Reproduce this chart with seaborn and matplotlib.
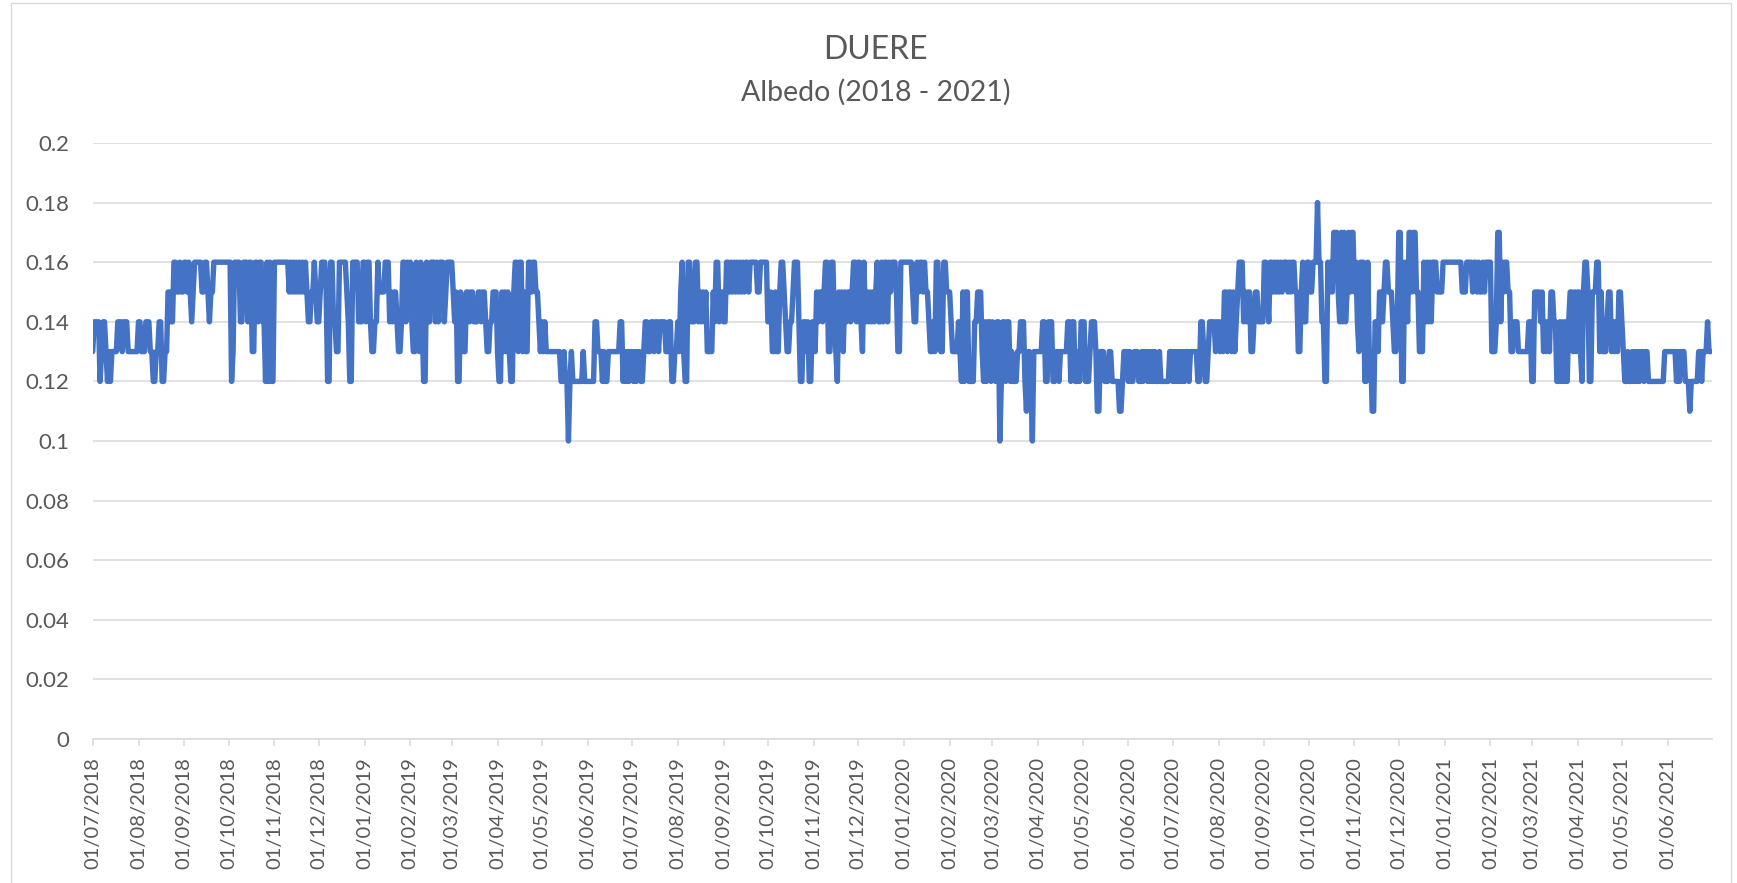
import matplotlib
matplotlib.use("Agg")
import matplotlib.pyplot as plt
from matplotlib.patches import Rectangle
from matplotlib.ticker import FuncFormatter
import matplotlib.dates as mdates
import numpy as np
import pandas as pd
import seaborn as sns

# Daily surface albedo at DUERE, stored in hundredths (13 -> 0.13), one list per half-year
albedo_2018_jul_dec = [
    13, 14, 14, 14, 14, 12, 13, 14, 14, 13,
    12, 13, 12, 13, 13, 13, 13, 14, 14, 14,
    13, 14, 14, 14, 13, 13, 13, 13, 13, 13,
    13, 14, 14, 13, 13, 13, 14, 14, 14, 13,
    13, 12, 12, 13, 13, 14, 14, 12, 12, 13,
    13, 15, 15, 14, 14, 16, 16, 15, 15, 16,
    15, 15, 16, 16, 15, 16, 15, 14, 15, 16,
    16, 16, 16, 16, 15, 15, 16, 16, 15, 14,
    15, 15, 16, 16, 16, 16, 16, 16, 16, 16,
    16, 16, 16, 16, 12, 13, 16, 16, 16,
    16, 14, 14, 16, 16, 16, 14, 16, 16, 13,
    13, 16, 16, 14, 16, 16, 14, 14, 12, 16,
    12, 16, 12, 12, 16, 16, 16, 16, 16, 16,
    16, 16, 16, 16, 15, 16, 15, 16, 15, 16,
    15, 16, 15, 16, 15, 16, 15, 14, 14, 15,
    15, 16, 15, 14, 14, 15, 16, 16, 16, 15,
    12, 12, 16, 16, 14, 14, 13, 13, 16, 16,
    16, 16, 16, 15, 14, 12, 12, 16, 16, 16,
    16, 14, 14, 14, 16,
]
albedo_2019_jan_jun = [
    16, 14, 16, 16, 14,
    13, 13, 14, 14, 16, 15, 15, 15, 15,
    16, 16, 16, 14, 15, 14, 15, 15, 14, 13,
    13, 14, 16, 16, 14, 16, 15, 16, 14, 13,
    13, 16, 14, 13, 16, 14, 12, 12, 16, 14,
    14, 16, 16, 16, 14, 16, 14, 16, 16, 16,
    14, 15, 16, 16, 16, 16, 15, 14, 15, 12,
    12, 15, 14, 13, 13, 15, 15, 14, 15, 15,
    14, 14, 14, 15, 15, 14, 15, 15, 14, 13,
    13, 14, 14, 15, 15, 15, 13, 12, 12, 15,
    13, 15, 13, 15, 13, 12, 12, 15, 16, 16,
    13, 16, 16, 13, 15, 13, 13, 16, 16, 15,
    16, 16,
    15, 15, 14, 13, 14, 13, 14, 13, 13, 13,
    13, 13, 13, 13, 13, 13, 13, 12, 12, 13,
    12, 12, 10, 12, 13, 12, 12, 12, 12, 12,
    12, 12, 13, 12, 12, 12, 12, 12, 12, 12,
    14, 14, 13, 13, 13, 12, 13, 12, 12, 13,
    13, 13, 13, 13, 13, 13, 13, 14, 14, 12,
    13, 12, 13, 12, 13,
]
albedo_2019_jul_dec = [
    13, 12, 13, 12, 13,
    13, 12, 12, 13, 14, 14, 13, 13, 14, 14,
    13, 14, 14, 13, 14, 14, 14, 14, 13, 13,
    14, 14, 12, 12, 13, 13, 14, 13,
    15,
    16, 13, 12, 12, 16, 16, 14, 14, 14, 16,
    16, 14, 15, 14, 15, 14, 15, 13, 13, 13,
    13, 15, 14, 16, 16, 14, 15, 15, 14, 14,
    16, 16, 15, 16, 15, 16, 15, 16, 15, 16,
    15, 16, 15, 16, 16, 15, 16, 16, 16, 16,
    16, 15, 15, 16, 16, 16, 16, 16, 14, 14,
    15, 13, 13, 15, 13, 13, 15, 16, 16, 15,
    14, 13, 13, 14, 14, 15, 16, 16, 16, 14,
    12, 12, 14, 14, 13, 14, 12, 12, 14, 14,
    13, 15, 14, 15, 15, 14, 15, 16, 16, 13,
    13, 16, 16, 14, 13, 12, 15, 14, 15, 13,
    15, 14, 15, 15, 14, 15, 16, 16, 14, 16,
    16, 14, 13, 16, 14, 15, 14, 15, 14, 15,
    14, 15, 16, 14, 14, 16, 14, 16, 16, 14,
    16, 15, 16, 16, 16, 15, 13, 13, 16, 16,
]
albedo_2020_jan_jun = [
    16, 16, 16, 16, 16, 16, 15, 14, 14, 16,
    15, 16, 16, 15, 16, 15, 15, 14, 13, 13,
    14, 13, 16, 16, 14, 13, 13, 16, 16, 15,
    15, 15, 14, 13, 13, 13, 13, 14, 13, 12,
    15, 12, 15, 15, 12, 12, 12, 12, 14, 14,
    15,
    15, 15, 13, 12, 14, 12, 14, 14, 12, 14,
    13, 12, 14, 14, 10, 12, 14, 14, 12, 14,
    14, 12, 13, 12, 12, 12, 13, 13, 14, 14,
    14, 12, 11, 13, 13, 12, 10, 13, 13, 13,
    13, 13, 13, 14, 14, 12, 12, 14, 14, 14,
    12, 12, 13, 13, 12, 13, 13, 13, 13, 13,
    14, 14, 12, 14, 14, 12, 12, 13, 12, 14,
    14, 14, 12, 12, 12, 13, 14, 14, 14, 13,
    11, 11, 13, 13, 13, 12, 12, 12, 13, 13,
    12, 12, 12, 12, 12, 11, 11, 12, 13, 13,
    13, 12, 13, 12, 12, 13, 13, 13, 12,
    12, 13, 12, 13, 13, 12, 13, 12, 13, 12,
    13, 12, 12, 13, 12, 12, 12, 12, 12, 12,
    13, 13,
]
albedo_2020_jul_dec = [
    12, 13, 12, 13, 12, 13, 12, 13,
    12, 13, 13, 12, 13, 13, 13, 13, 13, 12,
    12, 14, 14, 13, 12, 12, 13, 14, 14, 14,
    14, 13, 14, 14, 13, 14, 13, 15, 15, 13,
    15, 15, 13, 15, 13, 14, 15, 16, 16, 16,
    14, 15, 14, 15, 15, 13, 13, 14, 15, 15,
    14, 14, 14, 14, 16, 16, 15, 14, 16, 16,
    15,
    16, 15, 16, 15, 16, 15, 16, 16, 16, 15,
    16, 15, 16, 16, 15, 15, 13, 13, 15, 16,
    14, 14, 16, 16, 15, 15, 16, 16, 16, 18,
    16, 16, 14, 14, 12, 12, 16, 15, 16, 15,
    17, 17, 17, 15, 14, 17, 14, 17, 14, 15,
    17, 15, 17, 17, 15, 16, 14, 13, 16, 16,
    16, 12, 12, 16, 13, 13, 11, 11, 14, 14,
    13, 15, 15, 14, 15, 16, 16, 15, 15, 15,
    14, 13, 13, 14, 17, 17, 12, 12, 16, 15,
    14, 17, 17, 15, 17, 17, 15, 15, 13, 13,
    13, 16, 14, 16, 14, 16, 14, 16, 16, 16,
    15, 15, 15, 15, 16,
]
albedo_2021_jan_jun = [
    16, 16, 16, 16, 16,
    16, 16, 16, 16, 16, 16, 16, 15, 15, 15,
    16, 16, 16, 16, 15, 16, 16, 15, 16, 15,
    15, 16, 15, 16, 16, 16, 16, 13, 13, 13,
    14, 17, 17, 14, 16, 15, 16, 16, 15, 15,
    13, 13, 14, 14, 14, 13, 13, 13, 13, 13,
    13, 13, 14, 14, 12, 12, 15, 15, 15, 15,
    14, 15, 13, 14, 13, 14, 13, 15, 15, 14,
    14, 12, 12, 14, 12, 14, 12, 14, 12, 14,
    15, 15,
    13, 15, 13, 15, 15, 13, 12, 15, 16,
    16, 15, 12, 12, 15, 15, 15, 16, 16, 13,
    15, 13, 13, 13, 14, 15, 15, 13, 14, 13,
    14, 13, 15, 15, 14, 13, 12, 12, 13, 12,
    12, 13, 12, 13, 12, 13, 12, 13, 13, 12,
    13, 13, 12, 12, 12, 12, 12, 12, 12, 12,
    12, 12, 12, 13, 13, 13, 13, 13, 13, 13,
    13, 12, 13, 12, 13, 13, 13, 12, 12, 12,
    11, 12, 12, 12, 12, 12, 13, 13, 12, 13,
    13, 13, 14, 13, 13,
]

title_text = "DUERE"
subtitle_text = "Albedo (2018 - 2021)"
first_day = "2018-07-01"
axis_end = "2021-07-01"
last_tick = "2021-06-01"
y_ticks = [0, 0.02, 0.04, 0.06, 0.08, 0.1, 0.12, 0.14, 0.16, 0.18, 0.2]

halves = [albedo_2018_jul_dec, albedo_2019_jan_jun, albedo_2019_jul_dec,
          albedo_2020_jan_jun, albedo_2020_jul_dec, albedo_2021_jan_jun]
values = np.concatenate([np.asarray(h, dtype=float) for h in halves]) / 100.0
dates = pd.date_range(first_day, periods=len(values), freq="D")
df = pd.DataFrame({"date": dates, "albedo": values})

sns.set_theme(style="white")
plt.rcParams["font.family"] = ["Lato", "DejaVu Sans"]

W, H = 1737, 883
fig = plt.figure(figsize=(W / 100, H / 100), dpi=100)
fig.patch.set_facecolor("white")

left, right, top, bottom = 92.7, 1712, 143, 739
ax = fig.add_axes([left / W, 1 - bottom / H, (right - left) / W, (bottom - top) / H])

grid_col = "#d9d9d9"
text_col = "#595959"

sns.lineplot(data=df, x="date", y="albedo", ax=ax, color="#4472C4",
             linewidth=3.9, solid_joinstyle="round", solid_capstyle="round",
             zorder=3)

ax.set_ylim(0, 0.2)
ax.set_yticks(y_ticks)
ax.yaxis.set_major_formatter(FuncFormatter(lambda v, p: f"{v:g}"))
ax.set_xlim(pd.Timestamp(first_day), pd.Timestamp(axis_end))
ax.set_xticks(pd.date_range(first_day, last_tick, freq="MS"))
ax.xaxis.set_major_formatter(mdates.DateFormatter("%d/%m/%Y"))

ax.set_xlabel("")
ax.set_ylabel("")
ax.yaxis.grid(True, color=grid_col, linewidth=1.1)
ax.xaxis.grid(False)
ax.set_axisbelow(True)
for s in ["top", "left", "right"]:
    ax.spines[s].set_visible(False)
ax.spines["bottom"].set_color(grid_col)
ax.spines["bottom"].set_linewidth(1.1)

ax.tick_params(axis="x", which="major", length=5, width=1.1, color=grid_col,
               pad=8, labelsize=14.5, labelcolor=text_col, labelrotation=90,
               bottom=True)
ax.tick_params(axis="y", length=0, pad=17, labelsize=16, labelcolor=text_col)

fig.text(0.504, 1 - 50 / H, title_text, ha="center", va="center",
         fontsize=23, color=text_col)
fig.text(0.504, 1 - 92 / H, subtitle_text, ha="center", va="center",
         fontsize=20.5, color=text_col)

fig.add_artist(Rectangle((11 / W, -0.05), (1731 - 11) / W, 1.05 - 3 / H,
                         transform=fig.transFigure, fill=False,
                         edgecolor=grid_col, linewidth=1.0))

fig.savefig("out.png", dpi=100, facecolor="white")
